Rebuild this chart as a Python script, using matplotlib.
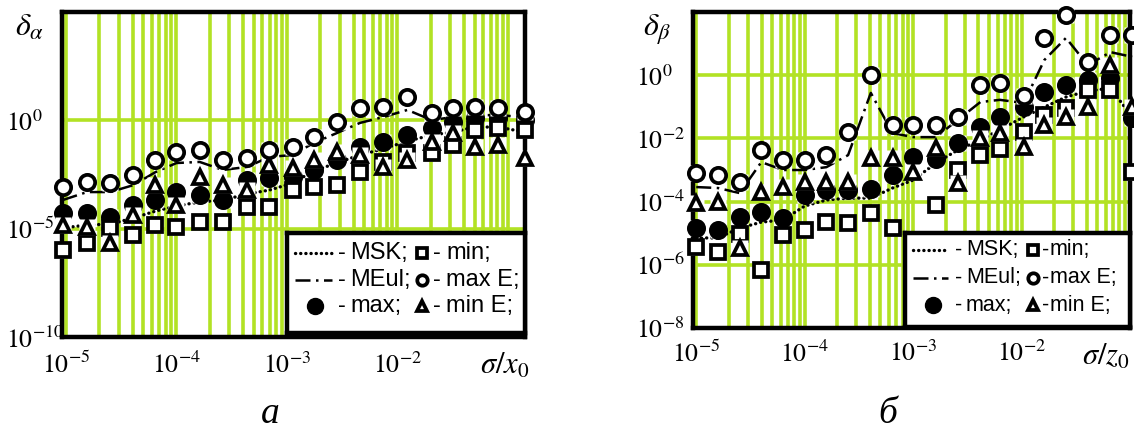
import numpy as np
import matplotlib
matplotlib.use("Agg")
import matplotlib.pyplot as plt
from matplotlib.ticker import FixedLocator, NullFormatter, NullLocator

plt.rcParams["mathtext.fontset"] = "stix"
plt.rcParams["font.family"] = ["Liberation Serif", "DejaVu Serif"]

GRID = "#b2e224"

# ---- panel (а): relative error vs sigma/x0, values stored as log10 ----
xa_log = [-5.03, -4.81, -4.60, -4.39, -4.19, -4.00, -3.79, -3.58, -3.36, -3.16, -2.95,
          -2.76, -2.55, -2.34, -2.13, -1.91, -1.69, -1.50, -1.30, -1.09, -0.85]
a_msk = [-4.97, -4.83, -4.79, -4.51, -4.19, -3.95, -3.77, -3.68, -3.40, -3.22, -2.90,
         -2.34, -1.97, -1.60, -1.32, -0.96, -0.68, -0.54, -0.31, -0.31, -0.54]
a_meul = [-3.68, -3.31, -3.31, -2.99, -2.39, -1.97, -1.92, -2.29, -2.15, -1.69, -1.60,
          -1.05, -0.59, -0.12, 0.15, 0.48, 0.01, 0.15, 0.24, 0.24, 0.15]
a_max = [-4.28, -4.28, -4.46, -3.91, -3.68, -3.31, -3.45, -3.68, -2.75, -2.66, -2.62,
         -2.29, -1.83, -1.23, -1.00, -0.68, -0.36, -0.08, 0.11, 0.11, 0.01]
a_min = [-5.99, -5.66, -4.97, -5.29, -4.83, -4.92, -4.69, -4.69, -4.00, -4.00, -3.22,
         -3.08, -2.99, -2.39, -1.92, -1.51, -1.51, -1.14, -0.45, -0.36, -0.45]
a_maxE = [-3.08, -2.85, -2.89, -2.52, -1.83, -1.46, -1.37, -1.83, -1.74, -1.37, -1.23,
          -0.77, -0.08, 0.57, 0.61, 1.08, 0.34, 0.57, 0.61, 0.57, 0.38]
a_minE = [-4.83, -4.92, -5.66, -4.37, -2.99, -3.91, -2.62, -2.99, -3.22, -2.06, -2.20,
          -1.83, -1.46, -1.60, -2.15, -1.83, -1.00, -0.59, -1.23, -1.14, -1.74]

# ---- panel (б): relative error vs sigma/z0, values stored as log10 ----
xb_log = [-5.00, -4.80, -4.60, -4.40, -4.20, -4.00, -3.80, -3.60, -3.39, -3.19, -3.00,
          -2.79, -2.59, -2.38, -2.20, -1.98, -1.79, -1.59, -1.39, -1.18, -0.98]
b_msk = [-5.15, -5.15, -4.84, -4.65, -4.58, -4.14, -3.95, -3.89, -3.89, -3.57, -3.32,
         -2.78, -2.37, -2.05, -1.73, -1.32, -1.01, -0.69, -0.50, -0.41, -1.32]
b_meul = [-3.54, -3.57, -3.73, -2.75, -3.00, -3.00, -2.91, -2.53, -0.56, -1.83, -1.96,
          -1.96, -1.42, -0.85, -0.78, -0.88, 0.48, 1.18, 0.32, 0.73, 0.58]
b_max = [-4.84, -4.90, -4.49, -4.33, -4.52, -3.79, -3.63, -3.63, -3.60, -3.16, -2.59,
         -2.65, -2.15, -1.64, -1.32, -1.01, -0.53, -0.31, -0.15, -0.09, -1.35]
b_min = [-5.44, -5.59, -5.03, -6.16, -5.06, -4.90, -4.65, -4.68, -4.36, -4.84, -5.22,
         -4.11, -3.00, -2.53, -2.34, -1.80, -1.26, -1.04, -0.47, -0.47, -3.06]
b_maxE = [-3.09, -3.16, -3.38, -2.37, -2.68, -2.68, -2.53, -1.80, 0.01, -1.58, -1.58,
          -1.58, -1.32, -0.31, -0.25, -0.66, 1.18, 1.91, 0.42, 1.27, 1.27]
b_minE = [-4.04, -4.01, -5.47, -3.70, -3.54, -3.38, -3.38, -3.38, -2.62, -2.62, -3.06,
          -2.30, -3.41, -1.99, -1.83, -2.27, -1.58, -1.32, -1.01, 0.32, -1.01]

a_yticks = [1e-10, 1e-5, 1e0, 1e5]
a_ylabels = [r"$10^{-10}$", r"$10^{-5}$", r"$10^{0}$", ""]
b_yticks = [1e-8, 1e-6, 1e-4, 1e-2, 1e0, 1e2]
b_ylabels = [r"$10^{-8}$", r"$10^{-6}$", r"$10^{-4}$", r"$10^{-2}$", r"$10^{0}$", ""]
xticks = [1e-5, 1e-4, 1e-3, 1e-2, 1e-1]
xlabels = [r"$10^{-5}$", r"$10^{-4}$", r"$10^{-3}$", r"$10^{-2}$", ""]

legend_rows = [("MSK;", "min;"), ("MEul;", "max E;"), ("max;", "min E;")]


def p10(v):
    return np.power(10.0, np.asarray(v, dtype=float))


W, H = 1134, 430
fig = plt.figure(figsize=(W / 100, H / 100), dpi=100)


def px_axes(l, t, r, b):
    return fig.add_axes([l / W, 1 - b / H, (r - l) / W, (b - t) / H])


MSK_LS = (0, (0.05, 1.5))
MEUL_LS = (0, (6, 2.2, 1, 2.2))


def setup(ax, xlim, ylim, yticks, ylabels, ypad, xpad):
    ax.set_xscale("log")
    ax.set_yscale("log")
    ax.set_xlim(xlim)
    ax.set_ylim(ylim)
    ax.xaxis.set_major_locator(FixedLocator(xticks))
    ax.set_xticklabels(xlabels)
    minors = [k * 10.0 ** d for d in range(-6, 0) for k in range(2, 10)]
    ax.xaxis.set_minor_locator(FixedLocator(minors))
    ax.xaxis.set_minor_formatter(NullFormatter())
    ax.yaxis.set_major_locator(FixedLocator(yticks))
    ax.set_yticklabels(ylabels)
    ax.yaxis.set_minor_locator(NullLocator())
    ax.grid(True, which="both", axis="x", color=GRID, lw=2.6)
    ax.grid(True, which="major", axis="y", color=GRID, lw=2.6)
    ax.set_axisbelow(True)
    for s in ax.spines.values():
        s.set_linewidth(3.2)
        s.set_color("black")
    ax.tick_params(which="both", length=0, labelsize=18.5)
    ax.tick_params(axis="y", pad=ypad)
    ax.tick_params(axis="x", pad=xpad)
    for lab in ax.get_yticklabels():
        lab.set_horizontalalignment("left")


def draw(ax, xl, msk, meul, vmax, vmin, vmaxE, vminE):
    x = p10(xl)
    ax.plot(x, p10(msk), ls=MSK_LS, lw=2.4, color="k", dash_capstyle="round",
            zorder=3, clip_on=False)
    ax.plot(x, p10(meul), ls=MEUL_LS, lw=1.8, color="k", zorder=3, clip_on=False)
    series = [(vmax, "o", "k", 11), (vmin, "s", "w", 10),
              (vminE, "^", "w", 10.5), (vmaxE, "o", "w", 11)]
    for y, m, fc, ms in series:
        ax.plot(x, p10(y), ls="none", marker="s", ms=ms * 1.1, mfc="w",
                mec="none", zorder=4, clip_on=False)
        ax.plot(x, p10(y), ls="none", marker=m, ms=ms, mfc=fc, mec="k",
                mew=2.7, zorder=4, clip_on=False)


def legend(box, rows_y, sample_x, hyph1, text1, mark_x, hyph2, text2, dot_x, fs):
    l, t, r, b = box
    lg = px_axes(l, t, r, b)
    lg.set_xlim(l, r)
    lg.set_ylim(b, t)
    lg.set_xticks([])
    lg.set_yticks([])
    lg.set_facecolor("white")
    for s in lg.spines.values():
        s.set_linewidth(3.2)
        s.set_color("black")
    y1, y2, y3 = rows_y
    lg.plot(sample_x, [y1, y1], ls=MSK_LS, lw=2.4, color="k", dash_capstyle="round")
    lg.plot(sample_x, [y2, y2], ls=MEUL_LS, lw=1.8, color="k")
    lg.plot([dot_x], [y3], marker="o", ms=11.5, color="k", ls="none")
    for y, m in zip(rows_y, ["s", "o", "^"]):
        lg.plot([mark_x], [y], marker=m, ms=7.5, mfc="w", mec="k", mew=2.7, ls="none")
    for y, (left, right) in zip(rows_y, legend_rows):
        kw = dict(fontsize=fs, family=["Liberation Sans", "DejaVu Sans"], va="center",
                  ha="left")
        lg.text(hyph1, y, "-", **kw)
        lg.text(text1, y, left, **kw)
        lg.text(hyph2, y, "-", **kw)
        lg.text(text2, y, right, **kw)
    return lg


# panel (а)
ax1 = px_axes(62, 12, 525, 337)
setup(ax1, (10 ** -5.036, 10 ** -0.846), (1e-10, 1e5), a_yticks, a_ylabels, 40, 11)
draw(ax1, xa_log, a_msk, a_meul, a_max, a_min, a_maxE, a_minE)

# panel (б)
ax2 = px_axes(693, 12, 1130, 328)
setup(ax2, (10 ** -5.03, 10 ** -1.0), (1e-8, 1e2), b_yticks, b_ylabels, 41, 9)
draw(ax2, xb_log, b_msk, b_meul, b_max, b_min, b_maxE, b_minE)

legend((287, 233, 525, 333), (253, 280, 306), [295, 332], 338, 350, 422, 433, 446, 315, 17)
legend((905, 233, 1130, 327), (250, 278, 305), [913, 948], 955, 966, 1033, 1042, 1050, 933, 15.5)

# axis titles and panel letters
fig.text(30 / W, 1 - 28 / H, r"$\delta_{\alpha}$", fontsize=23, ha="center", va="center")
fig.text(657 / W, 1 - 30 / H, r"$\delta_{\beta}$", fontsize=23, ha="center", va="center")
fig.text(505 / W, 1 - 366 / H, r"$\sigma/x_0$", fontsize=22, ha="center", va="center")
fig.text(1106 / W, 1 - 357 / H, r"$\sigma/z_0$", fontsize=22, ha="center", va="center")
fig.text(270 / W, 1 - 423 / H, "а", fontsize=27, style="italic", ha="center", va="baseline")
fig.text(888 / W, 1 - 423 / H, "б", fontsize=27, style="italic", ha="center", va="baseline")

fig.savefig("out.png", dpi=100, facecolor="white")
